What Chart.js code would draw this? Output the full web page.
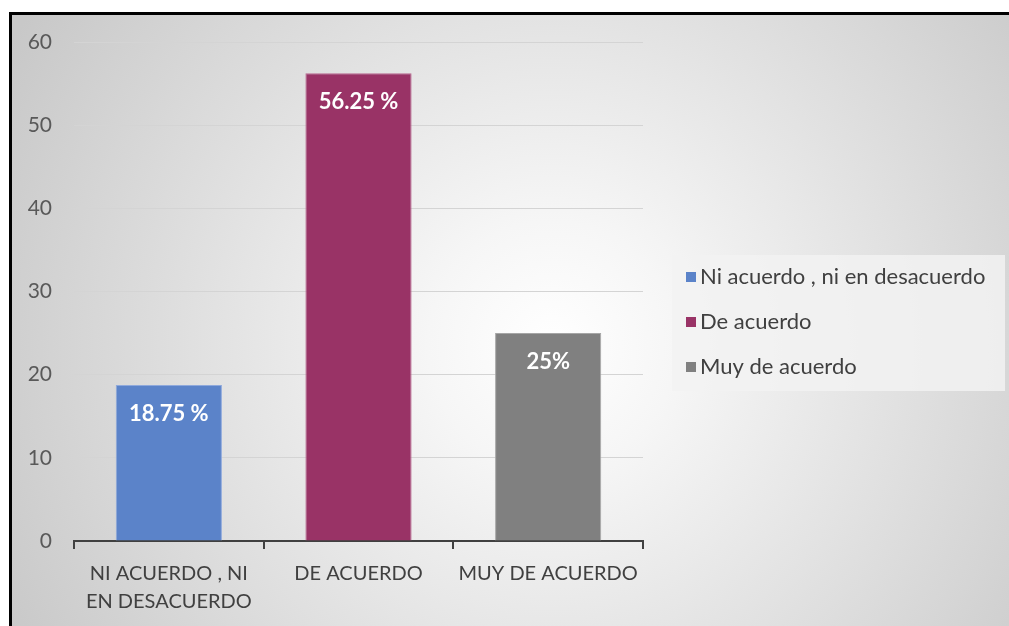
<!DOCTYPE html>
<html>
<head>
<meta charset="utf-8">
<script src="https://cdn.jsdelivr.net/npm/chart.js@4"></script>
<style>
  html, body { margin: 0; padding: 0; background: #fff; overflow: hidden; width: 1009px; height: 626px; }
  #marco { position: relative; width: 1009px; height: 626px; overflow: hidden; }
  #box {
    position: absolute; left: 9px; top: 12px;
    width: 1010px; height: 620px;
    border-top: 3px solid #000;
    border-left: 3px solid #000;
    background: radial-gradient(circle 620px at 540px 330px, #ffffff 0%, #f6f6f6 20%, #dcdcdc 65%, #c8c8c8 100%);
  }
  canvas { display: block; }
</style>
</head>
<body>
<div id="marco"><div id="box"><canvas id="myChart" width="1010" height="620"></canvas></div></div>
<script>
// categories and values
let categorias = [['NI ACUERDO , NI', 'EN DESACUERDO'], 'DE ACUERDO', 'MUY DE ACUERDO'];
let series = ['Ni acuerdo , ni en desacuerdo', 'De acuerdo', 'Muy de acuerdo'];
let valores = [18.75, 56.25, 25];
let etiquetas = ['18.75 %', '56.25 %', '25%'];
let colores = ['#5b83c9', '#993366', '#808080'];
let bordes = ['#8fa9dc', '#b86790', '#a6a6a6'];

let fuente = "Lato, 'Open Sans', sans-serif";

// one dataset per category so the legend gets three entries
let datasets = series.map((nombre, i) => {
  let d = valores.map(() => null);
  d[i] = valores[i];
  return {
    label: nombre,
    data: d,
    backgroundColor: colores[i],
    borderColor: bordes[i],
    borderWidth: 1,
    borderSkipped: 'bottom',
    grouped: false,
    barPercentage: 0.56,
    categoryPercentage: 1.0
  };
});

// white percentages inside the bars
const etiquetasPlugin = {
  id: 'etiquetas',
  afterDatasetsDraw(chart) {
    let ctx = chart.ctx;
    ctx.save();
    ctx.font = 'bold 22px ' + fuente;
    ctx.fillStyle = '#ffffff';
    ctx.textAlign = 'center';
    ctx.textBaseline = 'middle';
    chart.data.datasets.forEach((ds, i) => {
      let el = chart.getDatasetMeta(i).data[i];
      if (el) ctx.fillText(etiquetas[i], el.x, el.y + 29);
    });
    ctx.restore();
  }
};

// legend box on the right
const leyendaPlugin = {
  id: 'leyenda',
  afterDraw(chart) {
    let ctx = chart.ctx;
    let x0 = chart.chartArea.right + 29;
    let y0 = 240;
    ctx.save();
    ctx.fillStyle = 'rgba(242,242,242,0.85)';
    ctx.fillRect(x0, y0, 333, 136);
    ctx.font = '22px ' + fuente;
    ctx.textBaseline = 'middle';
    ctx.textAlign = 'left';
    chart.data.datasets.forEach((ds, i) => {
      let cy = y0 + 22 + i * 45;
      ctx.fillStyle = ds.backgroundColor;
      ctx.fillRect(x0 + 14, cy - 5, 10, 10);
      ctx.fillStyle = '#404040';
      ctx.fillText(ds.label, x0 + 28, cy);
    });
    ctx.restore();
  }
};

let chart = new Chart(document.getElementById('myChart'), {
  type: 'bar',
  data: { labels: categorias, datasets: datasets },
  plugins: [etiquetasPlugin, leyendaPlugin],
  options: {
    responsive: false,
    animation: false,
    layout: { padding: { left: 0, right: 379, top: 27, bottom: 0 } },
    plugins: {
      legend: { display: false },
      tooltip: { enabled: false },
      title: { display: false }
    },
    scales: {
      x: {
        afterFit: s => { s.height = 94; },
        grid: {
          offset: true,
          drawOnChartArea: false,
          drawTicks: true,
          tickLength: 8,
          color: '#404040',
          lineWidth: 2
        },
        border: { display: true, color: '#404040', width: 2 },
        ticks: {
          color: '#404040',
          padding: 11,
          font: { family: fuente, size: 20, lineHeight: 1.4 },
          maxRotation: 0,
          autoSkip: false
        }
      },
      y: {
        min: 0,
        max: 60,
        afterFit: s => { s.width = 62; s.paddingTop = 0; s.paddingBottom = 0; },
        grid: { color: '#d4d4d4', lineWidth: 1, drawTicks: false },
        border: { display: false },
        ticks: {
          stepSize: 10,
          color: '#595959',
          padding: 22,
          font: { family: fuente, size: 21 }
        }
      }
    }
  }
});
</script>
</body>
</html>
